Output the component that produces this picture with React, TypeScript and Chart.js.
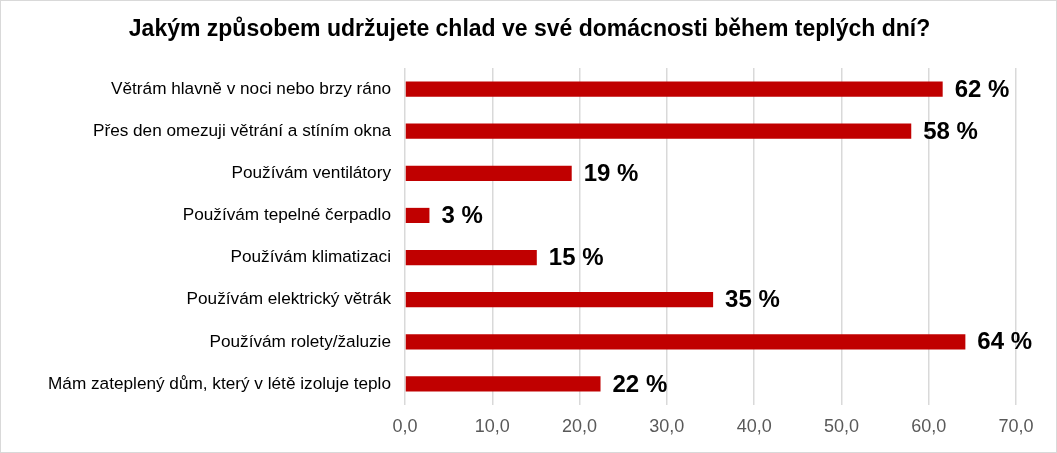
import { useEffect, useRef } from 'react';
import { Chart, registerables } from 'chart.js';
import type { Plugin } from 'chart.js';

Chart.register(...registerables);

const categories = [
  'Větrám hlavně v noci nebo brzy ráno',
  'Přes den omezuji větrání a stíním okna',
  'Používám ventilátory',
  'Používám tepelné čerpadlo',
  'Používám klimatizaci',
  'Používám elektrický větrák',
  'Používám rolety/žaluzie',
  'Mám zateplený dům, který v létě izoluje teplo',
];

const shares = [61.6, 58.0, 19.1, 2.8, 15.1, 35.3, 64.2, 22.4];

const title = 'Jakým způsobem udržujete chlad ve své domácnosti během teplých dní?';

const barLabels: Plugin<'bar'> = {
  id: 'barLabels',
  afterDatasetsDraw(chart) {
    const ctx = chart.ctx;
    const meta = chart.getDatasetMeta(0);
    ctx.save();
    ctx.font = 'bold 24px "Liberation Sans", Arial';
    ctx.fillStyle = '#000000';
    ctx.textAlign = 'left';
    ctx.textBaseline = 'middle';
    meta.data.forEach((bar, i) => {
      const p = bar.getProps(['x', 'y'], true);
      ctx.fillText(Math.round(shares[i]) + ' %', p.x + 12, p.y + 1);
    });
    ctx.restore();
  },
};

// title centred on the whole canvas, not on the padded layout box
const centredTitle: Plugin<'bar'> = {
  id: 'centredTitle',
  afterDraw(chart) {
    const ctx = chart.ctx;
    ctx.save();
    ctx.font = 'bold 23px "Liberation Sans", Arial';
    ctx.fillStyle = '#000000';
    ctx.textAlign = 'center';
    ctx.textBaseline = 'middle';
    ctx.fillText(title, chart.width / 2 + 1, 29);
    ctx.restore();
  },
};

export default function App() {
  const canvasRef = useRef<HTMLCanvasElement>(null);

  useEffect(() => {
    if (!canvasRef.current) return;
    const chart = new Chart(canvasRef.current, {
      type: 'bar',
      data: {
        labels: categories,
        datasets: [
          {
            data: shares,
            backgroundColor: '#C00000',
            barPercentage: 0.72,
            categoryPercentage: 0.5,
          },
        ],
      },
      options: {
        indexAxis: 'y',
        responsive: true,
        maintainAspectRatio: false,
        animation: false,
        layout: { padding: { left: 0, right: 40, top: 67, bottom: 0 } },
        plugins: {
          legend: { display: false },
          tooltip: { enabled: false },
          title: { display: false },
        },
        scales: {
          x: {
            min: 0,
            max: 70,
            ticks: {
              stepSize: 10,
              color: '#595959',
              padding: 11,
              font: { family: '"Liberation Sans", Arial', size: 18 },
              callback: (v) => Number(v).toFixed(1).replace('.', ','),
            },
            grid: { color: '#d9d9d9', lineWidth: 1.5, drawTicks: false },
            border: { display: false },
            afterFit: (scale) => {
              scale.height = 47;
            },
          },
          y: {
            ticks: {
              color: '#000000',
              padding: 14,
              font: { family: '"Liberation Sans", Arial', size: 17.2 },
            },
            grid: { display: false, drawTicks: false },
            border: { display: false },
            afterFit: (scale) => {
              scale.width = 404;
            },
          },
        },
      },
      plugins: [barLabels, centredTitle],
    });
    return () => chart.destroy();
  }, []);

  return (
    <div
      style={{
        position: 'absolute',
        left: 0,
        top: 0,
        width: 1057,
        height: 453,
        boxSizing: 'border-box',
        border: '1px solid #d9d9d9',
        background: '#ffffff',
      }}
    >
      <div style={{ position: 'relative', width: '100%', height: '100%' }}>
        <canvas ref={canvasRef} />
      </div>
    </div>
  );
}
